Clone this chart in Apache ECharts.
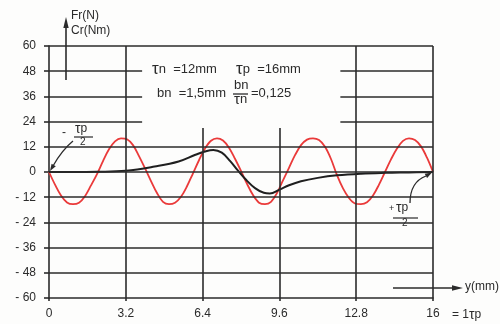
<!DOCTYPE html>
<html>
<head>
<meta charset="utf-8">
<script src="https://cdn.jsdelivr.net/npm/echarts@6/dist/echarts.min.js"></script>
<style>
  html, body { margin: 0; padding: 0; background: #fdfdfc; }
  #chart { width: 500px; height: 324px; }
</style>
</head>
<body>
<div id="chart"></div>
<script>
// Axis tick labels
const xTickLabels = ['0', '3.2', '6.4', '9.6', '12.8', '16'];
const yTickValues = [-60, -48, -36, -24, -12, 0, 12, 24, 36, 48, 60];

// Position y (mm) of the samples
const yPosRed = [
  0, 0.25, 0.5, 0.75, 1, 1.25, 1.5, 1.75, 2, 2.25, 2.5, 2.75, 3, 3.25, 3.5, 3.75,
  4, 4.25, 4.5, 4.75, 5, 5.25, 5.5, 5.75, 6, 6.25, 6.5, 6.75, 7, 7.25, 7.5, 7.75,
  8, 8.25, 8.5, 8.75, 9, 9.25, 9.5, 9.75, 10, 10.25, 10.5, 10.75, 11, 11.25, 11.5, 11.75,
  12, 12.25, 12.5, 12.75, 13, 13.25, 13.5, 13.75, 14, 14.25, 14.5, 14.75, 15, 15.25, 15.5, 15.75, 16
];
// Detent force Fr (N)
const forceFr = [
  0, -6.0, -11.2, -14.5, -15.3, -14.6, -11.5, -6.4, -1.0, 5.2, 10.8, 14.6, 16.0, 15.6, 12.8, 7.6,
  1.8, -4.3, -10.0, -14.2, -15.3, -14.6, -11.8, -6.8, -0.6, 5.6, 11.2, 14.9, 16.0, 15.0, 11.6, 6.3,
  0.5, -5.6, -11.0, -14.6, -15.3, -14.2, -10.0, -4.0, 2.0, 8.0, 12.8, 15.4, 16.0, 15.2, 12.0, 6.2,
  -1.5, -7.8, -12.4, -15.0, -15.3, -14.4, -11.2, -6.0, 0, 6.0, 11.2, 14.8, 16.0, 15.2, 12.2, 6.8, 0
];

// Torque Cr (Nm)
const yPosBlack = [0, 1, 2, 3.2, 4.4, 5.4, 6.1, 6.5, 6.85, 7.2, 7.55, 7.85, 8.2, 8.6, 8.95, 9.2, 9.6, 10.0, 10.5, 11.2, 12.0, 13.0, 14.0, 15.0, 16];
const torqueCr = [0, 0, 0.1, 0.6, 2.6, 5.0, 8.2, 9.8, 10.5, 9.2, 5.2, 1.0, -3.6, -7.8, -9.9, -10.2, -8.4, -6.3, -4.4, -2.8, -1.6, -0.8, -0.4, -0.2, 0];

const ink = '#2b2b2b';
const font = "'Liberation Sans', Arial, sans-serif";

function pairs(xs, ys) { return xs.map((x, i) => [x, ys[i]]); }
function seg(x1, y1, x2, y2) { return [{ coord: [x1, y1] }, { coord: [x2, y2] }]; }

// Grid lines: some are interrupted by the text block and the legend arrow
const gridLines = [
  seg(0, 60, 16, 60),
  seg(0, 48, 3.88, 48), seg(12.14, 48, 16, 48),
  seg(0, 36, 3.88, 36), seg(12.14, 36, 16, 36),
  seg(0, 24, 3.88, 24), seg(12.14, 24, 16, 24),
  seg(0, 12, 16, 12), seg(0, 0, 16, 0), seg(0, -12, 16, -12),
  seg(0, -24, 16, -24), seg(0, -36, 16, -36), seg(0, -48, 16, -48),
  seg(3.2, -60, 3.2, 60), seg(6.4, -60, 6.4, 21), seg(9.6, -60, 9.6, 21),
  seg(12.8, -60, 12.8, 60), seg(16, -60, 16, 60)
];

const txt = (left, top, text, size, extra) => Object.assign({
  type: 'text', left: left, top: top,
  style: Object.assign({ text: text, font: size + 'px ' + font, fill: ink }, extra || {})
}, {});

const chart = echarts.init(document.getElementById('chart'));
chart.setOption({
  backgroundColor: '#fdfdfc',
  animation: false,
  grid: { left: 49, right: 67, top: 46, bottom: 26 },
  xAxis: {
    type: 'value', min: 0, max: 16, interval: 3.2,
    axisLine: { onZero: false, lineStyle: { color: ink, width: 1.6 } },
    axisTick: { length: 3, lineStyle: { color: ink, width: 1.6 } },
    splitLine: { show: false },
    axisLabel: {
      margin: 10, color: ink, fontSize: 12, fontFamily: font,
      formatter: v => xTickLabels[Math.round(v / 3.2)]
    }
  },
  yAxis: {
    type: 'value', min: yTickValues[0], max: yTickValues[yTickValues.length - 1], interval: 12,
    axisLine: { lineStyle: { color: ink, width: 1.6 } },
    axisTick: { length: 5, lineStyle: { color: ink, width: 1.6 } },
    splitLine: { show: false },
    axisLabel: {
      margin: 13, color: ink, fontSize: 12, fontFamily: font,
      formatter: v => (v < 0 ? '- ' + (-v) : String(v))
    }
  },
  series: [
    {
      type: 'line', data: [], z: 1, silent: true,
      markLine: {
        silent: true, symbol: 'none', animation: false,
        label: { show: false },
        lineStyle: { color: ink, width: 1.6, type: 'solid' },
        emphasis: { disabled: true },
        data: gridLines
      }
    },
    {
      name: 'Fr', type: 'line', z: 3, smooth: 0.35, showSymbol: false,
      lineStyle: { color: '#ea3a3a', width: 1.8 },
      data: pairs(yPosRed, forceFr)
    },
    {
      name: 'Cr', type: 'line', z: 4, smooth: 0.4, showSymbol: false,
      lineStyle: { color: '#1f1f1f', width: 2 },
      data: pairs(yPosBlack, torqueCr)
    }
  ],
  graphic: [
    // vertical axis arrow and unit labels
    { type: 'line', shape: { x1: 66, y1: 80, x2: 66, y2: 26 }, style: { stroke: ink, lineWidth: 1.6 } },
    { type: 'polygon', shape: { points: [[63.3, 28], [68.7, 28], [66, 17]] }, style: { fill: ink } },
    txt(71, 10, 'Fr(N)', 12),
    txt(71, 25, 'Cr(Nm)', 12),

    // parameters block
    { type: 'text', left: 152, top: 61, style: {
      text: '{t|τ}{s|n}  {s|=12mm}', font: '13px ' + font, fill: ink,
      rich: { t: { fontSize: 17, fontFamily: font, fill: ink }, s: { fontSize: 13, fontFamily: font, fill: ink } } } },
    { type: 'text', left: 236, top: 61, style: {
      text: '{t|τ}{s|p}  {s|=16mm}', font: '13px ' + font, fill: ink,
      rich: { t: { fontSize: 17, fontFamily: font, fill: ink }, s: { fontSize: 13, fontFamily: font, fill: ink } } } },
    txt(157, 87, 'bn  =1,5mm', 13),
    txt(234, 79, 'bn', 13),
    { type: 'line', shape: { x1: 233, y1: 94, x2: 248, y2: 94 }, style: { stroke: ink, lineWidth: 1.3 } },
    { type: 'text', left: 234, top: 92, style: {
      text: '{t|τ}{s|n}', font: '13px ' + font, fill: ink,
      rich: { t: { fontSize: 15, fontFamily: font, fill: ink }, s: { fontSize: 13, fontFamily: font, fill: ink } } } },
    txt(251, 87, '=0,125', 13),

    // -τp/2 marker at the origin
    txt(62, 127, '-', 12),
    { type: 'text', left: 75, top: 122, style: {
      text: '{t|τ}{s|p}', font: '12px ' + font, fill: ink,
      rich: { t: { fontSize: 14, fontFamily: font, fill: ink }, s: { fontSize: 12, fontFamily: font, fill: ink } } } },
    { type: 'line', shape: { x1: 74, y1: 137, x2: 93, y2: 137 }, style: { stroke: ink, lineWidth: 1.2 } },
    txt(80, 137, '2', 10),
    { type: 'bezierCurve', shape: { x1: 73, y1: 141, x2: 53, y2: 166, cpx1: 62, cpy1: 150 }, style: { stroke: ink, lineWidth: 1.3, fill: null } },
    { type: 'polygon', shape: { points: [[50, 171], [55.8, 166.3], [51.6, 163.7]] }, style: { fill: ink } },

    // τp/2 marker at the end of the period
    txt(389, 204, '+', 9),
    { type: 'text', left: 396, top: 201, style: {
      text: '{t|τ}{s|p}', font: '12px ' + font, fill: ink,
      rich: { t: { fontSize: 14, fontFamily: font, fill: ink }, s: { fontSize: 12, fontFamily: font, fill: ink } } } },
    { type: 'line', shape: { x1: 393, y1: 218, x2: 418, y2: 218 }, style: { stroke: ink, lineWidth: 1.2 } },
    txt(402, 218, '2', 10),
    { type: 'bezierCurve', shape: { x1: 410, y1: 203, x2: 426, y2: 176, cpx1: 410, cpy1: 182 }, style: { stroke: ink, lineWidth: 1.3, fill: null } },
    { type: 'polygon', shape: { points: [[432, 172.5], [427.1, 178.1], [424.7, 173.7]] }, style: { fill: ink } },

    // horizontal axis arrow and units
    { type: 'line', shape: { x1: 393, y1: 288, x2: 454, y2: 288 }, style: { stroke: ink, lineWidth: 1.6 } },
    { type: 'polygon', shape: { points: [[452, 285.3], [452, 290.7], [463, 288]] }, style: { fill: ink } },
    txt(465, 281, 'y(mm)', 12),
    { type: 'text', left: 452, top: 308, style: {
      text: '{s|= 1}{t|τ}{s|p}', font: '12px ' + font, fill: ink,
      rich: { t: { fontSize: 14, fontFamily: font, fill: ink }, s: { fontSize: 12, fontFamily: font, fill: ink } } } }
  ]
});
</script>
</body>
</html>
